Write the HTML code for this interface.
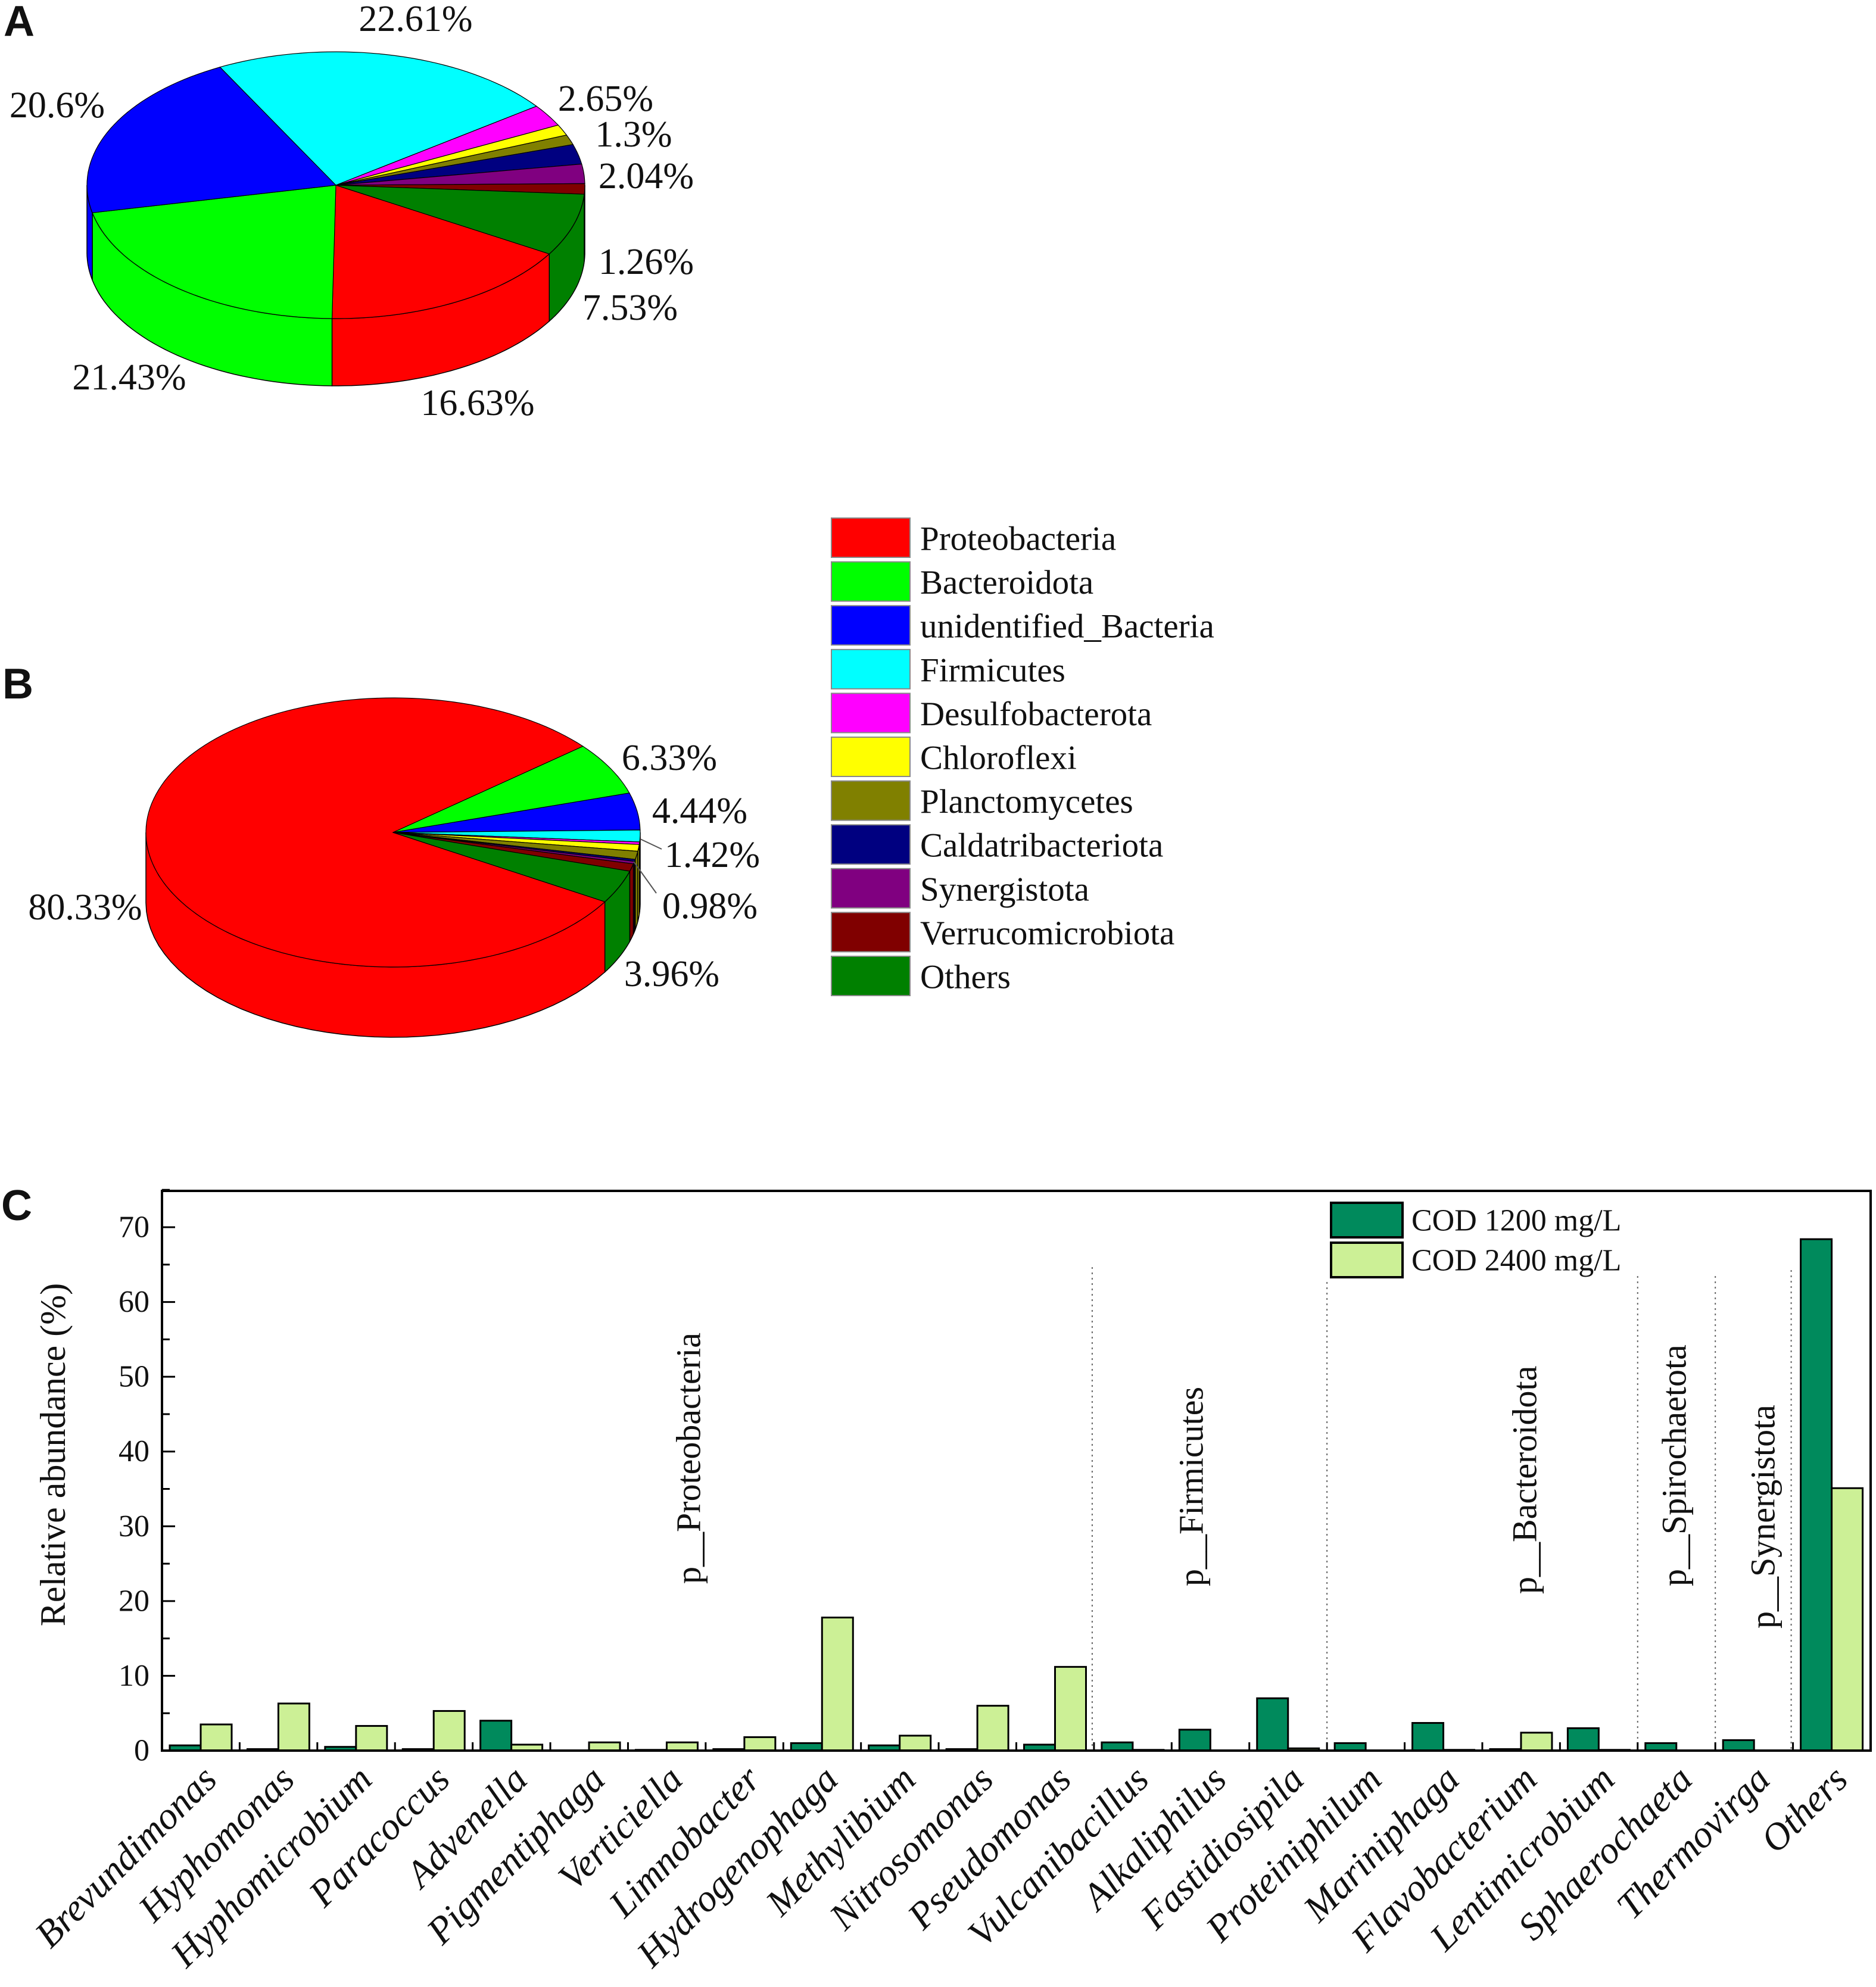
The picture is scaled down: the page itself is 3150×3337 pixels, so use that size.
<!DOCTYPE html>
<html><head><meta charset="utf-8"><style>
html,body{margin:0;padding:0;background:#fff}
svg{display:block}
svg text{font-family:"Liberation Serif","Times New Roman",serif}
</style></head><body>
<svg id="fig" width="3150" height="3337" viewBox="0 0 3150 3337" xmlns="http://www.w3.org/2000/svg" font-family="Liberation Serif, serif">
<g id="pies"></g>
<g id="legend"></g>
<g id="bars"></g>
</svg>
<script>
const phyla = ["Proteobacteria","Bacteroidota","unidentified_Bacteria","Firmicutes","Desulfobacterota","Chloroflexi","Planctomycetes","Caldatribacteriota","Synergistota","Verrucomicrobiota","Others"];
const phylaColors = ["#ff0000","#00ff00","#0000ff","#00ffff","#ff00ff","#ffff00","#808000","#000080","#800080","#800000","#008000"];
const pieAValues = [16.63,21.43,20.6,22.61,2.65,1.3,1.2,2.4,2.35,1.26,7.53];
const pieBValues = [80.33,6.33,4.44,1.42,0.3,0.8,0.98,0.24,0.3,0.9,3.96];

const genera = ["Brevundimonas","Hyphomonas","Hyphomicrobium","Paracoccus","Advenella","Pigmentiphaga","Verticiella","Limnobacter","Hydrogenophaga","Methylibium","Nitrosomonas","Pseudomonas","Vulcanibacillus","Alkaliphilus","Fastidiosipila","Proteiniphilum","Mariniphaga","Flavobacterium","Lentimicrobium","Sphaerochaeta","Thermovirga","Others"];
const cod1200 = [0.7,0.2,0.5,0.2,4.0,0,0.1,0.2,1.0,0.7,0.2,0.8,1.1,2.8,7.0,1.0,3.7,0.2,3.0,1.0,1.4,68.4];
const cod2400 = [3.5,6.3,3.3,5.3,0.8,1.1,1.1,1.8,17.8,2.0,6.0,11.2,0.1,0,0.3,0,0.1,2.4,0.1,0,0,35.1];
const yTicks = [0,10,20,30,40,50,60,70];
const groupNames = ["p__Proteobacteria","p__Firmicutes","p__Bacteroidota","p__Spirochaetota","p__Synergistota"];
const groupStart = [0,12,15,19,20];
const groupEnd = [11,14,18,19,20];

const SERIF='"Liberation Serif", "Times New Roman", serif';
const SANS='"Liberation Sans", Arial, sans-serif';
const NS="http://www.w3.org/2000/svg";
function mk(tag,attrs,parent){const e=document.createElementNS(NS,tag);for(const k in attrs)e.setAttribute(k,attrs[k]);if(tag==='text'&&!attrs.style)e.setAttribute('style','font-family:'+SERIF);parent.appendChild(e);return e;}

// ---------- Pies ----------
const pies=document.getElementById('pies');
function drawPie(values,cx,cy,rx,ry,depth,startDeg,name){
  const g=mk('g',{},pies);
  
  
  const total=values.reduce((a,b)=>a+b,0);
  const P=(deg,dy)=>{const r=deg*Math.PI/180;return [cx+rx*Math.cos(r),cy+ry*Math.sin(r)+dy];};
  let a=startDeg;const spans=[];
  values.forEach(v=>{const s=a,e=a+v/total*360;spans.push([s,e]);a=e;});
  spans.forEach(([s,e],i)=>{
    for(let k=-1;k<=1;k++){
      const lo=Math.max(s,k*360),hi=Math.min(e,k*360+180);
      if(hi<=lo)continue;
      let d='';const n=40;
      for(let j=0;j<=n;j++){const p=P(lo+(hi-lo)*j/n,0);d+=(j?'L':'M')+p[0].toFixed(1)+' '+p[1].toFixed(1);}
      for(let j=n;j>=0;j--){const p=P(lo+(hi-lo)*j/n,depth);d+='L'+p[0].toFixed(1)+' '+p[1].toFixed(1);}
      const side=mk('path',{d:d+'Z',fill:phylaColors[i],stroke:'#000','stroke-width':1.5},g);
      
      
    }
  });
  spans.forEach(([s,e],i)=>{
    let d='M'+cx+' '+cy;const n=Math.max(4,Math.ceil((e-s)/2));
    for(let j=0;j<=n;j++){const p=P(s+(e-s)*j/n,0);d+='L'+p[0].toFixed(1)+' '+p[1].toFixed(1);}
    const sl=mk('path',{d:d+'Z',fill:phylaColors[i],stroke:'#000','stroke-width':1.2},g);
    
    
  });
}
drawPie(pieAValues,564,311,418,224,113,31,'pie-a');
drawPie(pieBValues,660,1398,415,226,118,31,'pie-b');

const fig=document.getElementById('fig');
function lab(t,x,y,size,name,extra){
  const e=mk('text',Object.assign({x:x,y:y,'font-size':size,'text-anchor':'middle','dominant-baseline':'central',fill:'#111'},extra||{}),fig);
  e.textContent=t;
  
  
  return e;
}
const pctSize=62;
lab('22.61%',698,32,pctSize,'pie-a-label-firmicutes');
lab('20.6%',96,177,pctSize,'pie-a-label-unidentified');
lab('2.65%',1017,166,pctSize,'pie-a-label-desulfo');
lab('1.3%',1064,226,pctSize,'pie-a-label-chloroflexi');
lab('2.04%',1085,296,pctSize,'pie-a-label-caldatri');
lab('1.26%',1085,440,pctSize,'pie-a-label-verruco');
lab('7.53%',1058,517,pctSize,'pie-a-label-others');
lab('21.43%',217,634,pctSize,'pie-a-label-bacteroidota');
lab('16.63%',802,677,pctSize,'pie-a-label-proteobacteria');
lab('6.33%',1124,1273,pctSize,'pie-b-label-bacteroidota');
lab('4.44%',1175,1362,pctSize,'pie-b-label-unidentified');
lab('1.42%',1196,1436,pctSize,'pie-b-label-firmicutes');
lab('0.98%',1192,1522,pctSize,'pie-b-label-planctomycetes');
lab('80.33%',143,1524,pctSize,'pie-b-label-proteobacteria');
lab('3.96%',1128,1636,pctSize,'pie-b-label-others');
const l1=mk('line',{x1:1075,y1:1409,x2:1111,y2:1426,stroke:'#555','stroke-width':2},fig);


const l2=mk('line',{x1:1064,y1:1447,x2:1102,y2:1500,stroke:'#555','stroke-width':2},fig);


lab('A',32,36,72,'panel-label-a',{'font-weight':'bold',style:'font-family:'+SANS});
lab('B',30,1149,72,'panel-label-b',{'font-weight':'bold',style:'font-family:'+SANS});
lab('C',28,2025,72,'panel-label-c',{'font-weight':'bold',style:'font-family:'+SANS});

// ---------- Legend ----------
const leg=document.getElementById('legend');
phyla.forEach((p,i)=>{
  const y=870+i*73.6;
  const r=mk('rect',{x:1396,y:y,width:132,height:66,fill:phylaColors[i],stroke:'#888','stroke-width':2},leg);
  
  
  const t=mk('text',{x:1545,y:y+35,'font-size':57,'dominant-baseline':'central',fill:'#111'},leg);
  t.textContent=p;
  
  
});

// ---------- Bar chart ----------
const bars=document.getElementById('bars');
const X0=272,X1=3141,Y0=2000,YB=2940;
const band=(X1-X0)/genera.length;
const yScale=v=>YB-v*(YB-2061)/70;
const xBand=i=>X0+i*band;
const sepTops=[2128,2153,2143,2143,2133];
groupEnd.forEach((e,gi)=>{
  const x=xBand(e+1)+(gi===0?-3:0)+(gi===4?-3:0);
  const ln=mk('line',{x1:x,y1:sepTops[gi],x2:x,y2:YB,stroke:'#666','stroke-width':2,'stroke-dasharray':'3 6'},bars);
  
  
});
const bw=52;
genera.forEach((gname,i)=>{
  const bx=xBand(i)+13;
  [[cod1200,'#008a5c','cod1200'],[cod2400,'#ccf096','cod2400']].forEach(([arr,col,sn],k)=>{
    const v=arr[i];const y=yScale(v);
    const r=mk('rect',{x:bx+k*bw,y:y,width:bw,height:Math.max(0,YB-y),fill:col,stroke:'#000','stroke-width':3},bars);
    
    
  });
  const t=mk('text',{x:0,y:0,'font-size':64,'font-style':'italic','text-anchor':'end',fill:'#111',transform:`translate(${xBand(i)+band/2+30},${2992}) rotate(-45)`},bars);
  t.textContent=gname;
  
  
  if(i>0){
    const tk=mk('line',{x1:xBand(i),y1:YB,x2:xBand(i),y2:YB-14,stroke:'#000','stroke-width':3},bars);
    
    
  }
});
const fr=mk('rect',{x:X0,y:Y0,width:X1-X0,height:YB-Y0,fill:'none',stroke:'#000','stroke-width':4},bars);


yTicks.forEach(v=>{
  const y=yScale(v);
  const tk=mk('line',{x1:X0,y1:y,x2:X0+22,y2:y,stroke:'#000','stroke-width':3},bars);
  
  
  const m=yScale(v+5);
  const mt=mk('line',{x1:X0,y1:m,x2:X0+13,y2:m,stroke:'#000','stroke-width':3},bars);
  
  
  const t=mk('text',{x:251,y:y,'font-size':52,'text-anchor':'end','dominant-baseline':'central',fill:'#111'},bars);
  t.textContent=v;
  
  
});
const yt=mk('text',{x:0,y:0,'font-size':60,'text-anchor':'middle','dominant-baseline':'central',fill:'#111',transform:'translate(89,2443) rotate(-90)'},bars);
yt.textContent='Relative abundance (%)';


const gx=[1156,2000,2560,2811,2960],gy=[2660,2664,2677,2664,2735];
groupNames.forEach((n,i)=>{
  const t=mk('text',{x:0,y:0,'font-size':58,'dominant-baseline':'central',fill:'#111',transform:`translate(${gx[i]},${gy[i]}) rotate(-90)`},bars);
  t.textContent=n;
  
  
});
[['COD 1200 mg/L','#008a5c',2020],['COD 2400 mg/L','#ccf096',2087]].forEach(([n,c,y])=>{
  const r=mk('rect',{x:2235,y:y,width:120,height:58,fill:c,stroke:'#000','stroke-width':4},bars);
  
  
  const t=mk('text',{x:2370,y:y+30,'font-size':52,'dominant-baseline':'central',fill:'#111'},bars);
  t.textContent=n;
  
  
});
</script>
</body></html>
